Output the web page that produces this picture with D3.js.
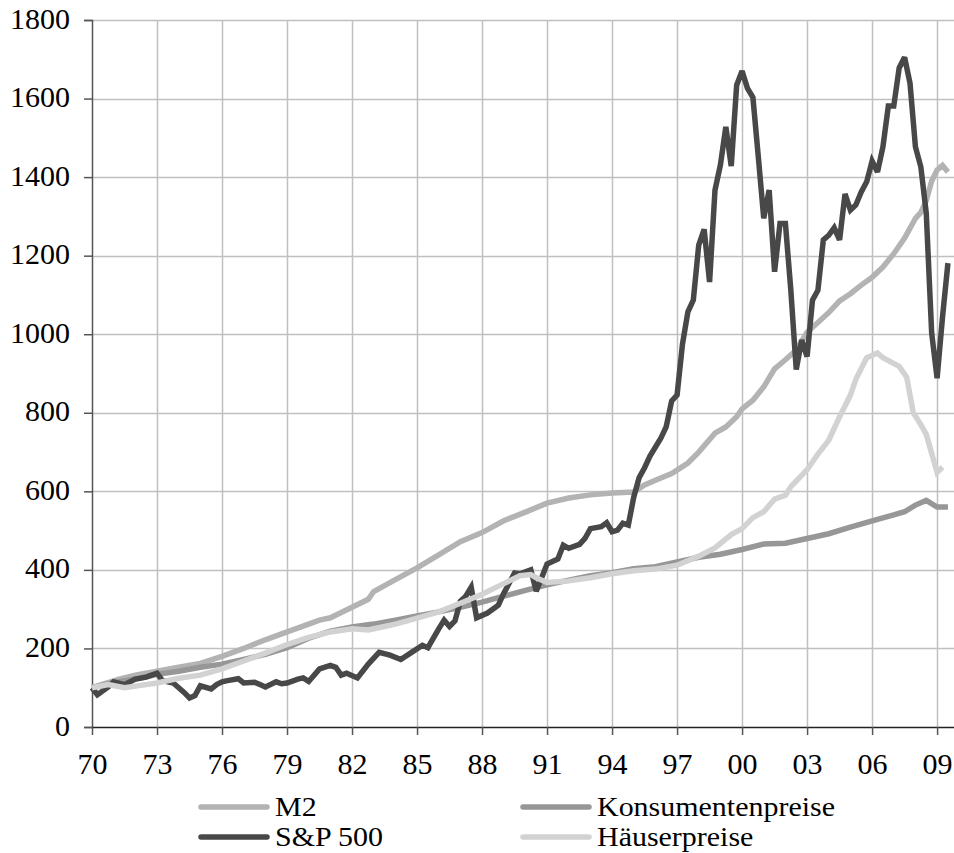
<!DOCTYPE html>
<html>
<head>
<meta charset="utf-8">
<script src="https://cdn.jsdelivr.net/npm/d3@7"></script>
<style>
  html, body { margin: 0; padding: 0; background: #ffffff; }
  svg { display: block; }
  text { font-family: "Liberation Serif", "Times New Roman", serif; fill: #000; }
</style>
</head>
<body>
<svg id="chart" width="954" height="853"></svg>
<script>
// ---- Data (index, 1970 = 100) ----
const xTickYears = [1970, 1973, 1976, 1979, 1982, 1985, 1988, 1991, 1994, 1997, 2000, 2003, 2006, 2009];
const xTickLabels = ["70", "73", "76", "79", "82", "85", "88", "91", "94", "97", "00", "03", "06", "09"];
const yTicks = [0, 200, 400, 600, 800, 1000, 1200, 1400, 1600, 1800];

const seriesNames = ["M2", "Konsumentenpreise", "S&P 500", "Häuserpreise"];

const m2Years = [1970, 1971.25, 1972, 1973, 1974, 1975, 1976, 1977, 1978, 1979, 1980, 1980.5, 1981, 1982, 1982.75, 1983, 1984, 1985, 1986, 1987, 1988, 1989, 1990, 1991, 1992, 1993, 1994, 1995, 1995.5, 1996, 1996.75, 1997, 1997.5, 1998, 1998.75, 1999.25, 1999.75, 2000, 2000.5, 2001, 2001.5, 2002, 2002.5, 2003, 2003.5, 2004, 2004.5, 2005, 2005.5, 2006, 2006.5, 2007, 2007.5, 2008, 2008.25, 2008.5, 2008.75, 2009, 2009.25, 2009.5];
const m2Values = [100, 122, 132, 142, 152, 162, 180, 200, 222, 242, 262, 272, 278, 305, 325, 345, 375, 405, 438, 472, 495, 525, 547, 570, 583, 591, 596, 598, 616, 628, 645, 654, 672, 700, 748, 764, 790, 810, 832, 866, 912, 935, 960, 1005, 1030, 1055, 1085, 1103, 1125, 1145, 1171, 1205, 1245, 1295, 1310, 1340, 1390, 1418, 1430, 1413];

const cpiYears = [1970, 1971, 1972, 1973, 1974, 1975, 1976, 1977, 1978, 1979, 1980, 1981, 1982, 1983, 1984, 1985, 1986, 1987, 1988, 1989, 1990, 1991, 1992, 1993, 1994, 1995, 1996, 1997, 1998, 1999, 2000, 2001, 2002, 2003, 2004, 2005, 2006, 2007, 2007.5, 2008, 2008.5, 2009, 2009.5];
const cpiValues = [100, 113, 122, 134, 142, 152, 160, 172, 185, 202, 226, 244, 255, 262, 272, 283, 293, 305, 318, 333, 348, 362, 374, 385, 393, 403, 408, 420, 432, 440, 452, 466, 468, 480, 492, 509, 525, 540, 548, 565, 577, 560, 560];

const spYears = [1970, 1970.25, 1970.75, 1971, 1971.5, 1972, 1972.5, 1972.75, 1973, 1973.25, 1973.5, 1973.75, 1974.25, 1974.5, 1974.75, 1975, 1975.5, 1975.75, 1976, 1976.25, 1976.75, 1977, 1977.5, 1977.75, 1978, 1978.5, 1978.75, 1979, 1979.5, 1979.75, 1980, 1980.5, 1981, 1981.25, 1981.5, 1981.75, 1982.25, 1982.75, 1983.25, 1983.75, 1984.25, 1984.75, 1985.25, 1985.5, 1986, 1986.25, 1986.5, 1986.75, 1987, 1987.25, 1987.5, 1987.75, 1988.25, 1988.75, 1989, 1989.5, 1989.75, 1990.25, 1990.5, 1990.75, 1991, 1991.5, 1991.75, 1992, 1992.5, 1992.75, 1993, 1993.5, 1993.75, 1994, 1994.25, 1994.5, 1994.75, 1995, 1995.25, 1995.5, 1995.75, 1996.25, 1996.5, 1996.75, 1997, 1997.25, 1997.5, 1997.75, 1998, 1998.25, 1998.5, 1998.75, 1999, 1999.25, 1999.5, 1999.75, 2000, 2000.25, 2000.5, 2000.75, 2001, 2001.25, 2001.5, 2001.75, 2002, 2002.25, 2002.5, 2002.75, 2003, 2003.25, 2003.5, 2003.75, 2004, 2004.25, 2004.5, 2004.75, 2005, 2005.25, 2005.5, 2005.75, 2006, 2006.25, 2006.5, 2006.75, 2007, 2007.25, 2007.5, 2007.75, 2008, 2008.25, 2008.5, 2008.75, 2009, 2009.25, 2009.5];
const spValues = [100, 82, 102, 115, 108, 122, 127, 132, 137, 118, 115, 112, 88, 74, 80, 105, 97, 108, 115, 118, 123, 112, 114, 108, 102, 115, 110, 112, 122, 125, 116, 148, 157, 152, 132, 137, 125, 160, 190, 183, 172, 190, 208, 202, 250, 272, 256, 270, 320, 333, 356, 278, 290, 310, 340, 392, 390, 400, 346, 380, 415, 428, 463, 455, 465, 480, 505, 510, 520, 497, 501, 519, 514, 585, 635, 660, 690, 735, 765, 830, 845, 975, 1057, 1087, 1227, 1267, 1133, 1367, 1431, 1528, 1428, 1634, 1670, 1626, 1603, 1451, 1295, 1367, 1159, 1282, 1282, 1112, 910, 985, 943, 1087, 1112, 1240, 1252, 1271, 1240, 1357, 1316, 1329, 1362, 1388, 1441, 1413, 1477, 1581, 1581, 1678, 1705, 1639, 1477, 1426, 1308, 1003, 888, 1044, 1181];

const housesYears = [1970, 1970.75, 1971.5, 1972.25, 1973, 1974, 1975, 1976, 1977, 1978, 1979, 1980, 1981, 1982, 1982.75, 1983.5, 1984, 1985, 1986, 1987, 1988, 1989, 1989.75, 1990.25, 1990.5, 1991, 1992, 1993, 1994, 1995, 1996, 1997, 1998, 1998.75, 1999.5, 2000, 2000.5, 2001, 2001.5, 2002, 2002.25, 2003, 2003.5, 2004, 2004.5, 2005, 2005.25, 2005.75, 2006.25, 2006.5, 2007.25, 2007.6, 2007.9, 2008.25, 2008.5, 2009, 2009.25];
const housesValues = [100, 108, 100, 106, 112, 124, 132, 148, 168, 188, 210, 228, 242, 250, 247, 256, 262, 277, 293, 315, 338, 365, 385, 388, 380, 368, 372, 380, 390, 398, 402, 412, 435, 456, 490, 505, 533, 548, 580, 590, 612, 655, 695, 730, 790, 845, 885, 940, 952, 940, 918, 890, 800, 770, 745, 648, 662];

const seriesColors = ["#b3b3b3", "#979797", "#484848", "#d2d2d2"];

// ---- Chart ----
const svg = d3.select("#chart");
const x = d3.scaleLinear().domain([1970, 2009.78]).range([92, 954]);
const y = d3.scaleLinear().domain([0, 1800]).range([727, 20]);

// gridlines
const grid = svg.append("g");
grid.selectAll("line.h").data(yTicks.filter(d => d > 0)).join("line")
  .attr("x1", 92).attr("x2", 954)
  .attr("y1", d => Math.round(y(d)) + 0.5).attr("y2", d => Math.round(y(d)) + 0.5)
  .attr("stroke", "#c0c0c0").attr("stroke-width", 1.5);
grid.selectAll("line.v").data(xTickYears.filter(d => d > 1970)).join("line")
  .attr("y1", 20).attr("y2", 727)
  .attr("x1", d => Math.round(x(d)) + 0.5).attr("x2", d => Math.round(x(d)) + 0.5)
  .attr("stroke", "#c0c0c0").attr("stroke-width", 1.5);

// y axis
const yAxis = d3.axisLeft(y).tickValues(yTicks).tickSize(8).tickPadding(14).tickFormat(d3.format("d"));
const gy = svg.append("g").attr("transform", "translate(92,0)").call(yAxis);
gy.select(".domain").attr("stroke", "#555").attr("stroke-width", 1.5);
gy.selectAll(".tick line").attr("stroke", "#555").attr("stroke-width", 1.5);
gy.selectAll(".tick text").attr("font-size", 30).attr("fill", "#000").attr("dy", "0.27em");

// x axis
const xAxis = d3.axisBottom(x).tickValues(xTickYears).tickSize(8).tickPadding(18)
  .tickFormat((d, i) => xTickLabels[i]);
const gx = svg.append("g").attr("transform", "translate(0,727)").call(xAxis);
gx.select(".domain").attr("d", "M92,0.5H954").attr("stroke", "#222").attr("stroke-width", 1.5);
gx.selectAll(".tick line").attr("stroke", "#555").attr("stroke-width", 1.5);
gx.selectAll(".tick text").attr("font-size", 30).attr("fill", "#000").attr("dy", "0.71em");

// lines
const seriesData = [
  d3.zip(m2Years, m2Values),
  d3.zip(cpiYears, cpiValues),
  d3.zip(spYears, spValues),
  d3.zip(housesYears, housesValues)
];
const line = d3.line().x(d => x(d[0])).y(d => y(d[1]));
svg.append("g").selectAll("path").data(seriesData).join("path")
  .attr("d", line)
  .attr("fill", "none")
  .attr("stroke", (d, i) => seriesColors[i])
  .attr("stroke-width", 5.5)
  .attr("stroke-linejoin", "miter")
  .attr("stroke-miterlimit", 3);

// legend (two columns, two rows; text slightly condensed-tall like the reference)
const legendPos = [[201, 807], [523, 807], [201, 837], [523, 837]];
const lg = svg.append("g");
seriesNames.forEach((name, i) => {
  const [lx, ly] = legendPos[i];
  lg.append("line").attr("x1", lx).attr("x2", lx + 66).attr("y1", ly).attr("y2", ly)
    .attr("stroke", seriesColors[i]).attr("stroke-width", 5.5).attr("stroke-linecap", "round");
  lg.append("text")
    .attr("transform", `translate(${lx + 74},${ly + 9}) scale(1.11,1)`)
    .attr("font-size", 27).text(name);
});
</script>
</body>
</html>
